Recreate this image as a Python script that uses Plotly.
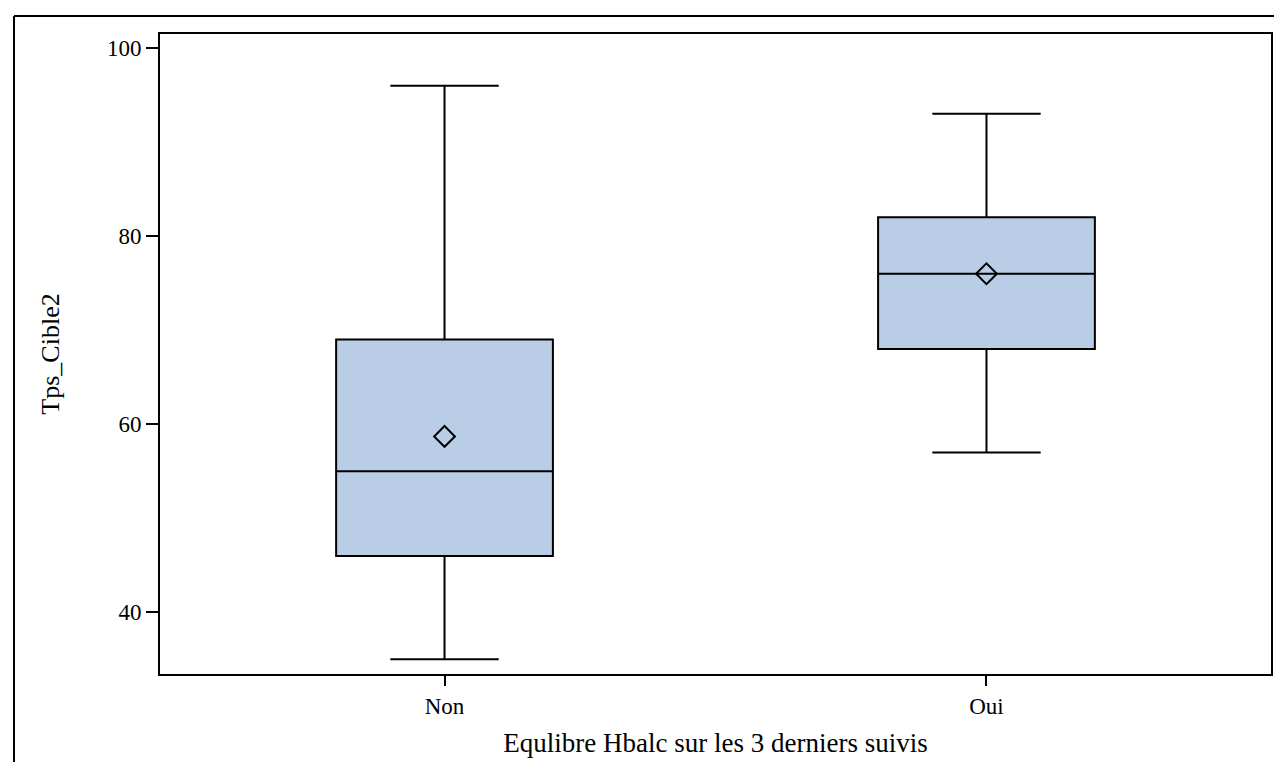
import plotly.graph_objects as go

# ---- data ----
categories = ["Non", "Oui"]
lower_whisker = [35, 57]
q1_vals = [46, 68]
median_vals = [55, 76]
q3_vals = [69, 82]
upper_whisker = [96, 93]
mean_vals = [58.7, 76]
y_ticks = [40, 60, 80, 100]
x_title = "Equlibre Hbalc sur les 3 derniers suivis"
y_title = "Tps_Cible2"

W, H = 1282, 762
ML, MR, MT, MB = 152, 19, 26, 96
FONT = "Liberation Serif, Times New Roman, serif"
FILL = "#B9CEE6"

fig = go.Figure()
fig.add_trace(go.Box(
    x=categories,
    q1=q1_vals, median=median_vals, q3=q3_vals,
    lowerfence=lower_whisker, upperfence=upper_whisker,
    mean=mean_vals, boxmean=False,
    width=0.4, whiskerwidth=0.5,
    fillcolor=FILL,
    line=dict(color="black", width=2),
    boxpoints=False,
    showlegend=False,
))
fig.add_trace(go.Scatter(
    x=categories, y=mean_vals, mode="markers",
    marker=dict(symbol="diamond-open", size=16, color="black",
                line=dict(color="black", width=2)),
    showlegend=False,
))

pw = W - ML - MR
ph = H - MT - MB
# outer frame (top and left edges)
fx = (6 - ML) / pw
fy = 1 + (MT - 8) / ph
fig.add_shape(type="line", xref="paper", yref="paper", x0=fx, x1=1.2, y0=fy, y1=fy,
              line=dict(color="black", width=2))
fig.add_shape(type="line", xref="paper", yref="paper", x0=fx, x1=fx, y0=fy, y1=-0.3,
              line=dict(color="black", width=2))

fig.update_layout(
    width=W, height=H,
    margin=dict(l=ML, r=MR, t=MT, b=MB),
    paper_bgcolor="white", plot_bgcolor="white",
    font=dict(family=FONT, color="black"),
)
fig.update_xaxes(
    type="category", categoryorder="array", categoryarray=categories,
    range=[-0.525, 1.525],
    showline=True, linecolor="black", linewidth=2, mirror=True,
    ticks="outside", ticklen=10, tickwidth=2, tickcolor="black",
    showgrid=False, zeroline=False,
    tickfont=dict(family=FONT, size=23),
    title=dict(text=x_title, font=dict(family=FONT, size=27), standoff=16),
)
fig.update_yaxes(
    range=[33.44, 101.49],
    tickvals=y_ticks,
    showline=True, linecolor="black", linewidth=2, mirror=True,
    ticks="outside", ticklen=12, tickwidth=2, tickcolor="black",
    showgrid=False, zeroline=False,
    tickfont=dict(family=FONT, size=23),
    title=dict(text=y_title, font=dict(family=FONT, size=26), standoff=40),
)

fig.write_html("out.html")
